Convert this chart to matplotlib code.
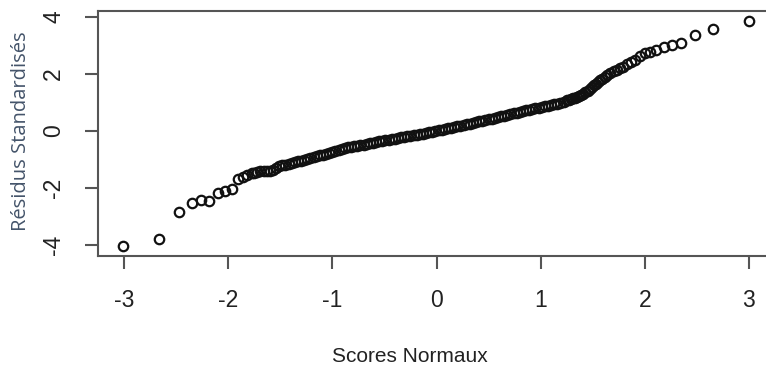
import matplotlib
matplotlib.use("Agg")
import matplotlib.pyplot as plt

## Data: normal scores (x) and standardized residuals (y)

# left tail
x_left = [-3.01, -2.66, -2.47, -2.35, -2.26, -2.18, -2.10, -2.03, -1.96,
          -1.91, -1.86, -1.82, -1.77]
y_left = [-4.03, -3.80, -2.85, -2.52, -2.42, -2.45, -2.19, -2.12, -2.05,
          -1.69, -1.62, -1.55, -1.49]

# dense central band
x_mid = [-1.75, -1.72, -1.69, -1.66, -1.63, -1.60, -1.57, -1.54, -1.51, -1.48,
         -1.45, -1.42, -1.39, -1.36, -1.33, -1.30, -1.27, -1.24, -1.21, -1.18,
         -1.15, -1.12, -1.09, -1.06, -1.03, -1.00, -0.97, -0.94, -0.91, -0.88,
         -0.85, -0.82, -0.79, -0.76, -0.73, -0.70, -0.67, -0.64, -0.61, -0.58,
         -0.55, -0.52, -0.49, -0.46, -0.43, -0.40, -0.37, -0.34, -0.31, -0.28,
         -0.25, -0.22, -0.19, -0.16, -0.13, -0.10, -0.07, -0.04, -0.01, 0.02,
         0.05, 0.08, 0.11, 0.14, 0.17, 0.20, 0.23, 0.26, 0.29, 0.32,
         0.35, 0.38, 0.41, 0.44, 0.47, 0.50, 0.53, 0.56, 0.59, 0.62,
         0.65, 0.68, 0.71, 0.74, 0.77, 0.80, 0.83, 0.86, 0.89, 0.92,
         0.95, 0.98, 1.01, 1.04, 1.07, 1.10, 1.13, 1.16, 1.19, 1.22]
y_mid = [-1.46, -1.43, -1.41, -1.40, -1.40, -1.39, -1.38, -1.30, -1.22, -1.20,
         -1.18, -1.16, -1.13, -1.10, -1.07, -1.04, -1.01, -0.99, -0.96, -0.92,
         -0.89, -0.86, -0.83, -0.80, -0.77, -0.73, -0.70, -0.67, -0.64, -0.61,
         -0.58, -0.56, -0.54, -0.52, -0.50, -0.48, -0.46, -0.44, -0.42, -0.40,
         -0.37, -0.35, -0.33, -0.31, -0.29, -0.27, -0.25, -0.23, -0.21, -0.19,
         -0.17, -0.15, -0.13, -0.11, -0.09, -0.07, -0.05, -0.03, -0.01, 0.02,
         0.04, 0.07, 0.09, 0.12, 0.14, 0.16, 0.19, 0.21, 0.24, 0.26,
         0.29, 0.31, 0.34, 0.36, 0.39, 0.41, 0.43, 0.46, 0.48, 0.51,
         0.54, 0.56, 0.59, 0.62, 0.64, 0.67, 0.70, 0.72, 0.75, 0.77,
         0.80, 0.82, 0.84, 0.86, 0.89, 0.91, 0.93, 0.95, 0.97, 1.02]

# right tail
x_right = [1.25, 1.27, 1.29, 1.31, 1.33, 1.35, 1.37, 1.39, 1.41, 1.43,
           1.45, 1.47, 1.49, 1.51, 1.53, 1.55, 1.57, 1.59, 1.62, 1.64,
           1.67, 1.70, 1.73, 1.76, 1.79, 1.83, 1.87, 1.91, 1.95, 2.00,
           2.05, 2.11, 2.18, 2.26, 2.35, 2.48, 2.65, 3.00]
y_right = [1.07, 1.09, 1.11, 1.14, 1.17, 1.20, 1.23, 1.27, 1.31, 1.36,
           1.41, 1.47, 1.53, 1.60, 1.66, 1.72, 1.78, 1.84, 1.90, 1.96,
           2.03, 2.09, 2.15, 2.21, 2.26, 2.34, 2.42, 2.49, 2.62, 2.74,
           2.77, 2.84, 2.93, 3.01, 3.09, 3.38, 3.59, 3.87]

x_ticks = [-3, -2, -1, 0, 1, 2, 3]
y_ticks = [-4, -2, 0, 2, 4]

## Figure

fig = plt.figure(figsize=(7.66, 3.70), dpi=100)
W, H = 766, 370
ax = fig.add_axes([98 / W, 1 - 256 / H, 677 / W, 245 / H])

for xs, ys in [(x_left, y_left), (x_mid, y_mid), (x_right, y_right)]:
    ax.plot(xs, ys, linestyle="none", marker="o", markersize=6.8,
            markerfacecolor="none", markeredgecolor="#111111", markeredgewidth=1.6)

ax.set_xlim(-3.25, 3.25)
ax.set_ylim(-4.39, 4.21)

ax.set_xticks(x_ticks)
ax.set_xticklabels([str(t) for t in x_ticks], fontfamily="Liberation Sans", fontsize=16.5)
ax.set_yticks(y_ticks)
ax.set_yticklabels([str(t) for t in y_ticks], fontfamily="Liberation Sans", fontsize=16.5,
                   rotation=90, va="center")

ax.tick_params(axis="both", direction="out", length=9.5, width=1.5, color="#555555",
               labelcolor="#222222", pad=14)

for s in ax.spines.values():
    s.set_color("#555555")
    s.set_linewidth(1.5)

ax.set_xlabel("Scores Normaux", fontfamily="Liberation Sans", fontsize=15, color="#222222")
ax.xaxis.set_label_coords((410 - 98) / 677, -(357 - 256) / 245)
ax.xaxis.label.set_va("center")

ax.set_ylabel("Résidus Standardisés", fontfamily="Open Sans", fontsize=14.5, color="#44546a")
ax.yaxis.set_label_coords(-(98 - 21) / 677, (256 - 131) / 245)
ax.yaxis.label.set_va("center")

fig.savefig("out.png", dpi=100)
